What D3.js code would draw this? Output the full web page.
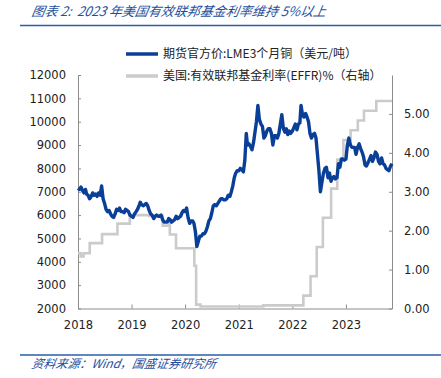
<!DOCTYPE html>
<html>
<head>
<meta charset="utf-8">
<script src="https://cdn.jsdelivr.net/npm/d3@7"></script>
<style>
  body { margin: 0; background: #fff; }
  svg { display: block; }
</style>
</head>
<body>
<div id="root"></div>
<script>
// LME 3M copper, USD/t, 3 readings a month (1st, 11th, 21st), Jan 2018 - Nov 2023
var copper = [
  7150, 7100, 7200,  7050, 6950, 7100,  6900, 6850, 6700,  6800, 6950, 6850,
  6900, 6800, 6950,  6850, 7250, 6700,  6500, 6250, 6150,  6200, 6050, 5950,
  5900, 6050, 6250,  6200, 6300, 6150,  6150, 6100, 6250,  6200, 6150, 6000,
  // 2019
  5950, 5900, 6050,  6150, 6250, 6400,  6550, 6450, 6400,  6450, 6500, 6400,
  6200, 6050, 6000,  5850, 5950, 6000,  5950, 5950, 6000,  5800, 5700, 5700,
  5700, 5850, 5800,  5700, 5750, 5800,  5950, 5850, 5900,  5950, 6100, 6200,
  // 2020
  6150, 6300, 5900,  5650, 5750, 5750,  5650, 5300, 4650,  4900, 5100, 5100,
  5200, 5200, 5300,  5500, 5750, 5850,  6100, 6400, 6450,  6400, 6500, 6600,
  6700, 6700, 6650,  6650, 6700, 6850,  6800, 7000, 7250,  7600, 7800, 7900,
  // 2021
  7900, 8000, 7950,  7850, 8350, 9500,  9000, 9050, 8950,  8800, 9100, 9550,
  10000, 10700, 10100, 9900, 9800, 9300, 9400, 9600, 9700,  9700, 9500, 9000,
  9400, 9400, 9300,  9500, 9900, 10300, 9700, 9550, 9700,  9450, 9600, 9500,
  // 2022
  9600, 9750, 9900,  9650, 9900, 9950,  10700, 10300, 10200, 10350, 10200, 10000,
  9500, 9300, 9450,  9500, 9300, 8600,  7900, 7000, 7400,  7800, 8000, 8050,
  7600, 7800, 7450,  7600, 7650, 7550,  7600, 8200, 8050,  8400, 8400, 8350,
  // 2023
  8400, 9000, 9300,  9000, 8900, 8900,  8900, 8600, 8900,  9050, 8850, 8700,
  8500, 8150, 8100,  8250, 8400, 8550,  8300, 8450, 8700,  8600, 8300, 8200,
  8450, 8200, 8150,  8000, 7950, 7900,  8100, 8200
];

// EFFR (%), value from each date until the next one
var effrDates = [
  "2018-01-01", "2018-01-20", "2018-02-08", "2018-03-22", "2018-06-14", "2018-09-27",
  "2018-12-20", "2019-05-02", "2019-08-01", "2019-09-17", "2019-09-19", "2019-10-31",
  "2020-03-04", "2020-03-16", "2020-04-15", "2021-06-17", "2022-03-17", "2022-05-05",
  "2022-06-16", "2022-07-28", "2022-09-22", "2022-11-03", "2022-12-15", "2023-02-02",
  "2023-03-23", "2023-05-04", "2023-07-27", "2023-11-11"
];
var effr = [
  1.42, 1.34, 1.42, 1.68, 1.91, 2.18,
  2.40, 2.38, 2.13, 2.30, 1.90, 1.55,
  1.10, 0.10, 0.05, 0.08, 0.33, 0.83,
  1.58, 2.33, 3.08, 3.83, 4.33, 4.58,
  4.83, 5.08, 5.33, 5.33
];

var leftTicks = [2000, 3000, 4000, 5000, 6000, 7000, 8000, 9000, 10000, 11000, 12000];
var rightTicks = [0, 1, 2, 3, 4, 5];
var yearTicks = [2018, 2019, 2020, 2021, 2022, 2023];

var titleText = "图表 2:  2023 年美国有效联邦基金利率维持 5%以上";
var sourceText = "资料来源：Wind，国盛证券研究所";
var legendNames = ["期货官方价:LME3个月铜（美元/吨）", "美国:有效联邦基金利率(EFFR)%（右轴）"];

var W = 441, H = 378;
var margin = {top: 75, right: 49, bottom: 69.5, left: 78};
var width = W - margin.left - margin.right;
var height = H - margin.top - margin.bottom;

var blue = "#0a3f97";
var grey = "#cbcbcb";
var font = "'DejaVu Sans', sans-serif";
var cjk = "'Noto Sans CJK SC', sans-serif";

var copperData = copper.map(function(v, i) {
  return {date: new Date(2018, Math.floor(i / 3), [1, 11, 21][i % 3]), value: v};
});
var effrData = effr.map(function(v, i) {
  return {date: d3.timeParse("%Y-%m-%d")(effrDates[i]), value: v};
});

var svg = d3.select("#root").append("svg")
  .attr("width", W)
  .attr("height", H);

// title + rules
svg.append("text")
  .attr("x", 31).attr("y", 16.5)
  .style("white-space", "pre")
  .attr("font-family", cjk).attr("font-size", 13).attr("font-style", "italic")
  .attr("transform", "skewX(-10) translate(3,0)")
  .attr("fill", "#1d4f9c")
  .text(titleText);
svg.append("line").attr("x1", 20).attr("x2", W).attr("y1", 25.5).attr("y2", 25.5)
  .attr("stroke", "#2a5ea8").attr("stroke-width", 1.5);
svg.append("line").attr("x1", 20).attr("x2", W).attr("y1", 355).attr("y2", 355)
  .attr("stroke", "#2a5ea8").attr("stroke-width", 1.5);
svg.append("text")
  .attr("x", 32).attr("y", 368)
  .attr("font-family", cjk).attr("font-size", 12).attr("font-style", "italic")
  .attr("transform", "skewX(-10) translate(64,0)")
  .attr("fill", "#1d4f9c")
  .text(sourceText);

var g = svg.append("g").attr("transform", "translate(" + margin.left + "," + margin.top + ")");

var x = d3.scaleTime()
  .domain([new Date(2018, 0, 1), copperData[copperData.length - 1].date])
  .range([0, width]);
var yL = d3.scaleLinear().domain([2000, 12000]).range([height, 0]);
var yR = d3.scaleLinear().domain([0, 6]).range([height, 0]);

function styleAxis(sel) {
  sel.select(".domain").attr("stroke", "#8c8c8c");
  sel.selectAll(".tick line").attr("stroke", "#8c8c8c");
  sel.selectAll(".tick text").attr("fill", "#222").attr("font-family", font).attr("font-size", 11.5);
}

g.append("g")
  .call(d3.axisLeft(yL).tickValues(leftTicks).tickFormat(d3.format("d"))
    .tickSize(-3).tickPadding(12).tickSizeOuter(0))
  .call(styleAxis);

g.append("g")
  .attr("transform", "translate(" + width + ",0)")
  .call(d3.axisRight(yR).tickValues(rightTicks).tickSize(-3).tickPadding(12).tickSizeOuter(0)
    .tickFormat(d3.format(".2f")))
  .call(styleAxis);

g.append("g")
  .attr("transform", "translate(0," + height + ")")
  .call(d3.axisBottom(x).tickValues(yearTicks.map(function(y) { return new Date(y, 0, 1); }))
    .tickFormat(d3.timeFormat("%Y")).tickSize(-4).tickPadding(12).tickSizeOuter(0))
  .call(styleAxis);

// EFFR step line (drawn first, under copper)
g.append("path")
  .datum(effrData)
  .attr("fill", "none")
  .attr("stroke", grey)
  .attr("stroke-width", 2.6)
  .attr("d", d3.line()
    .curve(d3.curveStepAfter)
    .x(function(d) { return x(d.date); })
    .y(function(d) { return yR(d.value); }));

g.append("path")
  .datum(copperData)
  .attr("fill", "none")
  .attr("stroke", blue)
  .attr("stroke-width", 3.4)
  .attr("stroke-linejoin", "round")
  .attr("d", d3.line()
    .x(function(d) { return x(d.date); })
    .y(function(d) { return yL(d.value); }));

// legend
var legend = svg.append("g");
[blue, grey].forEach(function(c, i) {
  var ly = 54 + i * 22;
  legend.append("line")
    .attr("x1", 126).attr("x2", 158).attr("y1", ly).attr("y2", ly)
    .attr("stroke", c).attr("stroke-width", 3.5);
  legend.append("text")
    .attr("x", 163).attr("y", ly + 4.3)
    .attr("font-family", cjk).attr("font-size", 12).attr("fill", "#222")
    .text(legendNames[i]);
});
</script>
</body>
</html>
